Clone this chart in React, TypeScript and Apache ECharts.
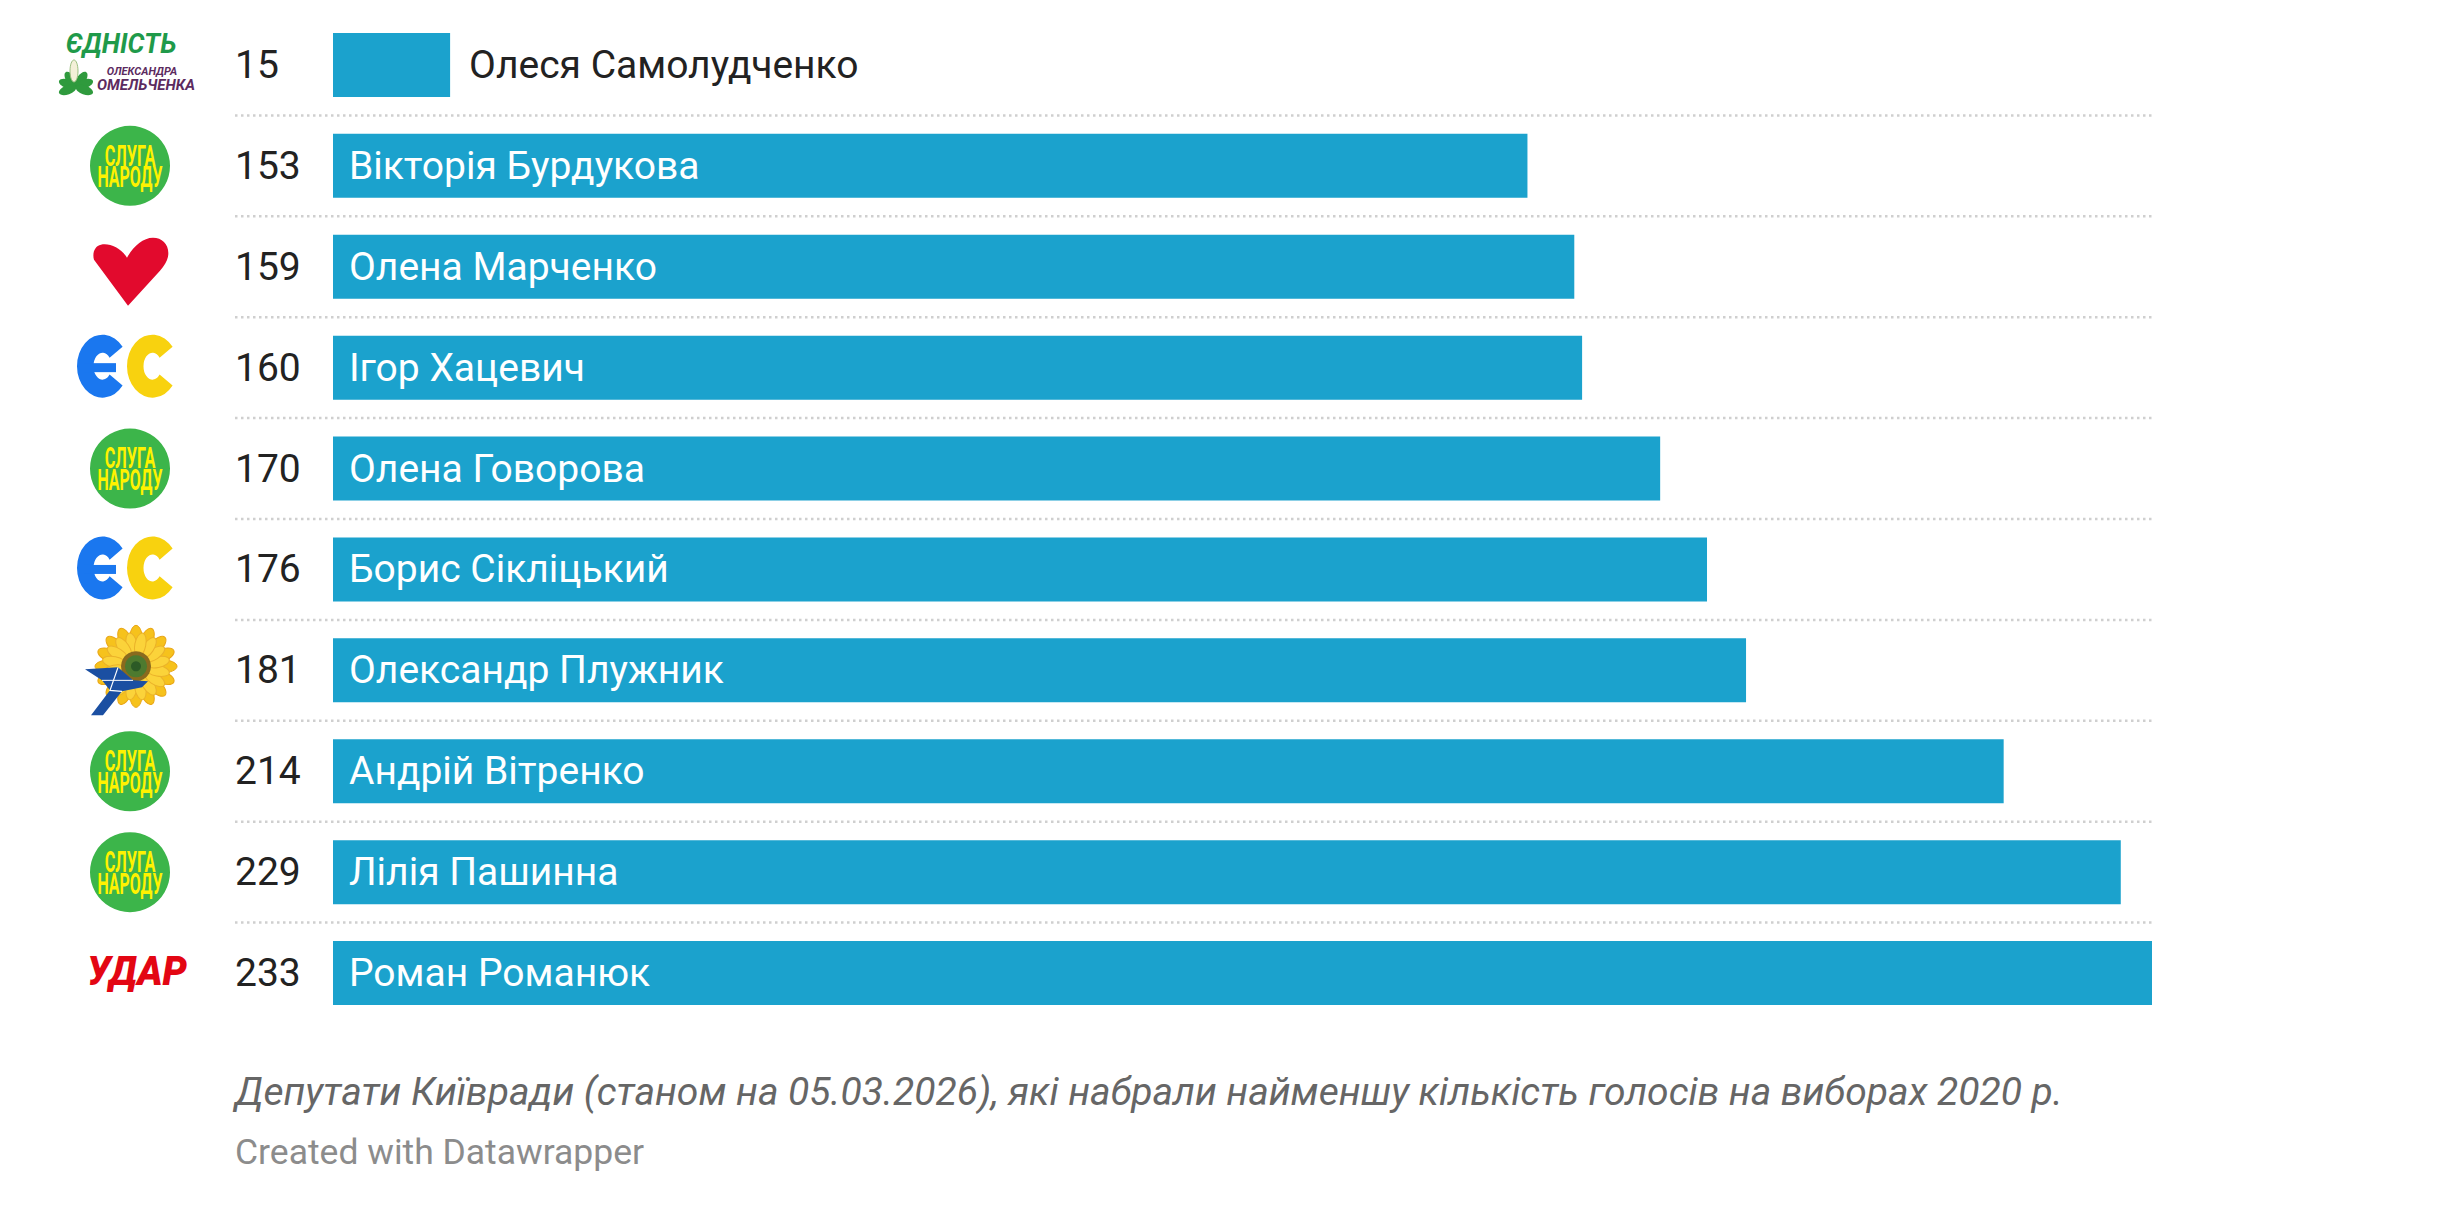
import React, { useEffect, useRef } from "react";
import * as echarts from "echarts";

// ---------- DATA ----------
const names = [
  "Олеся Самолудченко",
  "Вікторія Бурдукова",
  "Олена Марченко",
  "Ігор Хацевич",
  "Олена Говорова",
  "Борис Сікліцький",
  "Олександр Плужник",
  "Андрій Вітренко",
  "Лілія Пашинна",
  "Роман Романюк",
];
const votes = [15, 153, 159, 160, 170, 176, 181, 214, 229, 233];
const parties = ["yednist", "sluha", "batk", "es", "sluha", "es", "zm", "sluha", "sluha", "udar"];
const captionText =
  "Депутати Київради (станом на 05.03.2026), які набрали найменшу кількість голосів на виборах 2020 р.";
const creditText = "Created with Datawrapper";

// ---------- SHAPES ----------
const heartD =
  "M35,68 L1,22 C-1,15 2,8 8,7 C16,5 28,10 34,20 C40,9 50,0 60,0 C70,0 77,8 75,19 C74,24 71,28 67,33 Z";

function cPath(rx: number, ry: number, irx: number, iry: number, angDeg: number) {
  const a = (angDeg * Math.PI) / 180;
  const cx = rx;
  const cy = ry;
  const p1x = cx + rx * Math.cos(a);
  const p1y = cy - ry * Math.sin(a);
  const p2x = cx + rx * Math.cos(a);
  const p2y = cy + ry * Math.sin(a);
  const q2x = cx + irx * Math.cos(a);
  const q2y = cy + iry * Math.sin(a);
  const q1x = cx + irx * Math.cos(a);
  const q1y = cy - iry * Math.sin(a);
  return (
    `M${p1x},${p1y} A${rx},${ry} 0 1 0 ${p2x},${p2y} ` +
    `L${q2x},${q2y} A${irx},${iry} 0 1 1 ${q1x},${q1y} Z`
  );
}

let registered = false;
function registerShapes() {
  if (registered) return;
  registered = true;
  echarts.graphic.registerShape("heartLogo", echarts.graphic.extendPath(heartD, {}) as any);
  echarts.graphic.registerShape("esLetter", echarts.graphic.extendPath(cPath(25.5, 31.5, 9, 13.5, 38), {}) as any);
}

const FONT = "Roboto";

function txt(x: number, y: number, text: string, o: any, extra: any = {}) {
  return {
    type: "text",
    x,
    y,
    ...extra,
    style: {
      text,
      x: 0,
      y: 0,
      align: "center",
      verticalAlign: "middle",
      textAlign: "center",
      textVerticalAlign: "middle",
      fontFamily: FONT,
      ...o,
    },
    silent: true,
  };
}

function logo(kind: string, cy: number): any {
  const children: any[] = [];
  if (kind === "yednist") {
    children.push(
      txt(121, -21, "ЄДНІСТЬ", { fontSize: 28, fontWeight: "bold", fontStyle: "italic", fill: "#1f9a4a" }, { scaleX: 0.95 })
    );
    children.push(
      txt(142, 7, "ОЛЕКСАНДРА", { fontSize: 11, fontWeight: "bold", fontStyle: "italic", fill: "#5c2b5f" })
    );
    children.push(
      txt(146, 20, "ОМЕЛЬЧЕНКА", { fontSize: 15, fontWeight: "bold", fontStyle: "italic", fill: "#5c2b5f" })
    );
    const leafAngles = [-70, -35, 35, 70, 110, -110];
    leafAngles.forEach((deg) => {
      children.push({
        type: "group",
        x: 76,
        y: 22,
        rotation: (-deg * Math.PI) / 180,
        children: [
          { type: "ellipse", shape: { cx: 0, cy: -9, rx: 4.5, ry: 9 }, style: { fill: "#2f9a3d" } },
        ],
      });
    });
    children.push({ type: "ellipse", shape: { cx: 74, cy: 6, rx: 4, ry: 11 }, style: { fill: "#f4f0d8", stroke: "#9bbf80", lineWidth: 1 } });
  } else if (kind === "sluha") {
    children.push({ type: "circle", shape: { cx: 130, cy: 0, r: 40 }, style: { fill: "#3cb54a" } });
    children.push(
      txt(130, -10, "СЛУГА", { fontSize: 29, fontWeight: "bold", fill: "#fff200" }, { scaleX: 0.56 })
    );
    children.push(
      txt(130, 11.5, "НАРОДУ", { fontSize: 29, fontWeight: "bold", fill: "#fff200" }, { scaleX: 0.55 })
    );
  } else if (kind === "batk") {
    children.push({ type: "heartLogo", x: 93, y: -29, style: { fill: "#e20a2d" } });
  } else if (kind === "es") {
    children.push({ type: "esLetter", x: 127, y: -33, style: { fill: "#f8d20f" } });
    children.push({ type: "esLetter", x: 77, y: -33, style: { fill: "#1a77ef" } });
    children.push({ type: "rect", shape: { x: 84, y: -4.5, width: 32, height: 9 }, style: { fill: "#1a77ef" } });
  } else if (kind === "zm") {
    const scx = 136;
    const scy = -4;
    for (let i = 0; i < 16; i++) {
      children.push({
        type: "group",
        x: scx,
        y: scy,
        rotation: (i * 2 * Math.PI) / 16,
        children: [
          {
            type: "ellipse",
            shape: { cx: 0, cy: -26, rx: 6.5, ry: 15 },
            style: { fill: "#f6c21c", stroke: "#e9a514", lineWidth: 1 },
          },
        ],
      });
    }
    for (let i = 0; i < 16; i++) {
      children.push({
        type: "group",
        x: scx,
        y: scy,
        rotation: ((i + 0.5) * 2 * Math.PI) / 16,
        children: [
          {
            type: "ellipse",
            shape: { cx: 0, cy: -22, rx: 5.5, ry: 12 },
            style: { fill: "#fbd33a", stroke: "#eab22a", lineWidth: 1 },
          },
        ],
      });
    }
    children.push({ type: "circle", shape: { cx: scx, cy: scy, r: 15 }, style: { fill: "#8a6a1e" } });
    children.push({ type: "circle", shape: { cx: scx, cy: scy, r: 11 }, style: { fill: "#4d7a2f" } });
    children.push({ type: "circle", shape: { cx: scx, cy: scy, r: 5 }, style: { fill: "#2c5a26" } });
    const bird = [
      [85, -1],
      [118, -3],
      [133, 10],
      [148, 11],
      [142, 17],
      [122, 21],
      [103, 45],
      [91, 45],
      [110, 20],
      [102, 10],
    ];
    children.push({ type: "polygon", shape: { points: bird }, style: { fill: "#1b4fa2" } });
    children.push({ type: "polyline", shape: { points: [[118, -3], [110, 20], [122, 21]] }, style: { stroke: "#ffffff", lineWidth: 1.2, fill: null } });
    children.push({ type: "line", shape: { x1: 102, y1: 10, x2: 133, y2: 10 }, style: { stroke: "#ffffff", lineWidth: 1 } });
  } else if (kind === "udar") {
    children.push(
      txt(137, -2, "УДАР", { fontSize: 41, fontWeight: 900, fontStyle: "italic", fill: "#e30613" }, { scaleX: 0.94 })
    );
  }
  return { type: "group", x: 0, y: cy, children, silent: true };
}

export default function App() {
  const ref = useRef<HTMLDivElement>(null);

  useEffect(() => {
    if (!ref.current) return;
    registerShapes();
    const chart = echarts.init(ref.current, null, { renderer: "svg" });
    const maxV = Math.max(...votes);

    const seriesData = votes.map((v) =>
      v < maxV * 0.2
        ? { value: v, label: { position: "right", color: "#222222", distance: 19 } }
        : { value: v }
    );

    chart.setOption({
      animation: false,
      backgroundColor: "#ffffff",
      grid: { left: 333, right: 286, top: 14.5, bottom: 182.5, containLabel: false },
      xAxis: {
        type: "value",
        min: 0,
        max: maxV,
        show: false,
      },
      yAxis: {
        type: "category",
        data: names,
        inverse: true,
        axisLine: { show: false },
        axisTick: { show: false },
        splitLine: { show: false },
        axisLabel: {
          formatter: (_v: string, i: number) => String(votes[i]),
          align: "left",
          margin: 98,
          fontSize: 39,
          fontFamily: FONT,
          color: "#222222",
        },
      },
      series: [
        {
          type: "bar",
          data: seriesData,
          barWidth: 64,
          itemStyle: { color: "#1ba2cd" },
          label: {
            show: true,
            position: "insideLeft",
            distance: 16,
            formatter: "{b}",
            color: "#ffffff",
            fontSize: 39,
            fontFamily: FONT,
          },
        },
      ],
    });

    const ys = names.map((n) => chart.convertToPixel({ yAxisIndex: 0 }, n) as number);
    const x0 = chart.convertToPixel({ xAxisIndex: 0 }, 0) as number;
    const xEnd = chart.convertToPixel({ xAxisIndex: 0 }, maxV) as number;
    const lineStart = x0 - 98;

    const graphic: any[] = [];
    for (let i = 0; i < ys.length - 1; i++) {
      const y = (ys[i] + ys[i + 1]) / 2;
      graphic.push({
        type: "line",
        shape: { x1: lineStart, y1: y, x2: xEnd, y2: y },
        style: { stroke: "#cfcfcf", lineWidth: 2.5, lineDash: [2.5, 3.5] },
        silent: true,
      });
    }
    parties.forEach((p, i) => graphic.push(logo(p, ys[i])));
    graphic.push({
      type: "text",
      x: lineStart,
      y: 1092,
      style: {
        text: captionText,
        fontFamily: FONT,
        fontSize: 39,
        fontStyle: "italic",
        fill: "#666666",
        verticalAlign: "middle",
        textVerticalAlign: "middle",
      },
      silent: true,
    });
    graphic.push({
      type: "text",
      x: lineStart,
      y: 1152,
      style: {
        text: creditText,
        fontFamily: FONT,
        fontSize: 35.5,
        fill: "#8c8c8c",
        verticalAlign: "middle",
        textVerticalAlign: "middle",
      },
      silent: true,
    });
    chart.setOption({ graphic });

    return () => chart.dispose();
  }, []);

  return (
    <div
      ref={ref}
      style={{ position: "fixed", left: 0, top: 0, width: "2438px", height: "1206px", background: "#fff" }}
    />
  );
}
